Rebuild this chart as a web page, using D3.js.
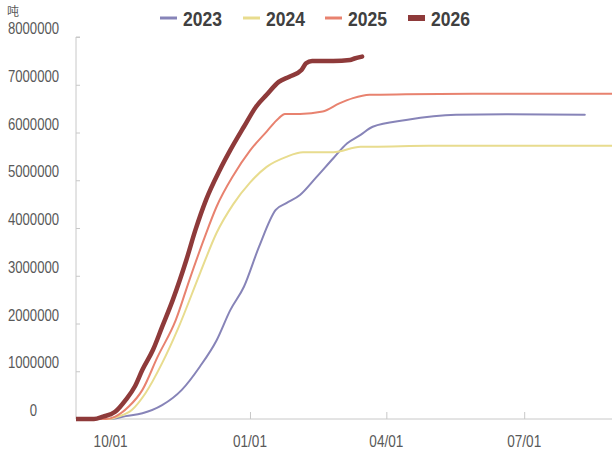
<!DOCTYPE html>
<html><head><meta charset="utf-8">
<script src="https://cdn.jsdelivr.net/npm/d3@7"></script>
<style>
body{margin:0;background:#fff;}
svg{display:block;}
</style></head>
<body>
<svg id="chart" width="612" height="454"></svg>
<script>
// ---- data (season dates mapped onto a generic 2001/2002 season) ----
const seriesNames = ["2023", "2024", "2025", "2026"];
const seriesColors = ["#8784b8", "#e8dc8e", "#e8826f", "#8e3a3a"];
const seriesWidths = [2, 2, 2, 4.5];

const dates2023 = ["2001-09-08","2001-10-01","2001-10-11","2001-10-22","2001-11-04","2001-11-17","2001-11-29","2001-12-10","2001-12-19","2001-12-28","2002-01-07","2002-01-18","2002-01-25","2002-02-03","2002-02-14","2002-02-25","2002-03-06","2002-03-15","2002-03-23","2002-04-14","2002-05-17","2002-06-19","2002-08-10"];
const values2023 = [0, 0, 60000, 120000, 290000, 610000, 1100000, 1650000, 2280000, 2770000, 3610000, 4380000, 4520000, 4690000, 5070000, 5460000, 5770000, 5950000, 6120000, 6260000, 6370000, 6380000, 6370000];

const dates2024 = ["2001-09-08","2001-09-30","2001-10-06","2001-10-15","2001-10-24","2001-11-04","2001-11-15","2001-11-29","2001-12-10","2001-12-21","2002-01-01","2002-01-12","2002-01-25","2002-02-05","2002-02-25","2002-03-15","2002-03-23","2002-04-29","2002-08-31"];
const values2024 = [0, 0, 50000, 190000, 540000, 1170000, 1930000, 3050000, 3900000, 4500000, 4950000, 5280000, 5490000, 5585000, 5585000, 5700000, 5700000, 5720000, 5720000];

const dates2025 = ["2001-09-08","2001-09-28","2001-10-04","2001-10-13","2001-10-22","2001-11-01","2001-11-13","2001-11-22","2001-12-02","2001-12-10","2001-12-21","2002-01-01","2002-01-12","2002-01-20","2002-01-24","2002-02-03","2002-02-18","2002-03-01","2002-03-10","2002-03-21","2002-04-14","2002-05-28","2002-08-31"];
const values2025 = [0, 0, 50000, 260000, 610000, 1300000, 2070000, 2910000, 3800000, 4450000, 5100000, 5620000, 6020000, 6300000, 6390000, 6390000, 6440000, 6610000, 6720000, 6790000, 6800000, 6810000, 6810000];

const dates2026 = ["2001-09-08","2001-09-20","2001-09-26","2001-10-04","2001-10-11","2001-10-17","2001-10-22","2001-10-29","2001-11-04","2001-11-11","2001-11-20","2001-11-26","2001-12-03","2001-12-12","2001-12-19","2001-12-28","2002-01-05","2002-01-12","2002-01-20","2002-01-27","2002-02-04","2002-02-07","2002-02-11","2002-02-25","2002-03-08","2002-03-11","2002-03-16"];
const values2026 = [0, 0, 50000, 150000, 400000, 680000, 1030000, 1450000, 1930000, 2490000, 3330000, 3960000, 4590000, 5210000, 5630000, 6120000, 6540000, 6790000, 7060000, 7170000, 7310000, 7450000, 7500000, 7500000, 7520000, 7550000, 7590000];

const yTicks = [0, 1000000, 2000000, 3000000, 4000000, 5000000, 6000000, 7000000, 8000000];
const xTickDates = ["2001-10-01", "2002-01-01", "2002-04-01", "2002-07-01"];
const xTickLabels = ["10/01", "01/01", "04/01", "07/01"];
const unitLabel = "吨";

// ---- drawing ----
const parse = d3.timeParse("%Y-%m-%d");
const allDates = [dates2023, dates2024, dates2025, dates2026];
const allValues = [values2023, values2024, values2025, values2026];
const series = seriesNames.map((name, i) => ({
  name, color: seriesColors[i], width: seriesWidths[i],
  points: allDates[i].map((d, j) => ({date: parse(d), value: allValues[i][j]}))
}));

const svg = d3.select("#chart");
const pL = 76, pR = 612, pT = 37, pB = 419;
const x = d3.scaleTime().domain([parse("2001-10-01"), parse("2002-07-01")]).range([110.6, 524.2]);
const y = d3.scaleLinear().domain([0, 8000000]).range([pB, pT]);

const fontMain = "'Liberation Sans',Arial,sans-serif";
const axisColor = "#c8c8c8";
const textColor = "#595959";

// y axis
const yAxis = d3.axisRight(y).tickValues(yTicks).tickSize(4).tickFormat("");
const gy = svg.append("g").attr("transform", `translate(${pL},0)`).call(yAxis);
gy.select(".domain").attr("stroke", axisColor).attr("d", `M4,${pT}H0V${pB}`);
gy.selectAll(".tick line").attr("stroke", axisColor);

svg.append("g").selectAll("text").data(yTicks).join("text")
  .attr("x", 33.5).attr("y", d => y(d) - 3)
  .attr("text-anchor", "middle")
  .attr("font-family", fontMain).attr("font-size", 16).attr("fill", textColor)
  .attr("textLength", d => String(d).length * 7.3).attr("lengthAdjust", "spacingAndGlyphs")
  .text(d => d3.format("d")(d));

// x axis
const xAxis = d3.axisTop(x).tickValues(xTickDates.map(parse)).tickSize(7).tickFormat("");
const gx = svg.append("g").attr("transform", `translate(0,${pB})`).call(xAxis);
gx.select(".domain").attr("stroke", axisColor).attr("d", `M${pL},0H${pR}`);
gx.selectAll(".tick line").attr("stroke", axisColor);

svg.append("g").selectAll("text").data(xTickDates).join("text")
  .attr("x", d => x(parse(d))).attr("y", 447)
  .attr("text-anchor", "middle")
  .attr("font-family", fontMain).attr("font-size", 16).attr("fill", textColor)
  .attr("textLength", 34).attr("lengthAdjust", "spacingAndGlyphs")
  .text((d, i) => xTickLabels[i]);

// unit
svg.append("text").attr("x", 7).attr("y", 16)
  .attr("font-family", "'Noto Sans CJK SC',sans-serif").attr("font-size", 12).attr("fill", textColor)
  .text(unitLabel);

// lines
svg.append("clipPath").attr("id", "clip").append("rect")
  .attr("x", pL).attr("y", 0).attr("width", pR - pL).attr("height", pB + 3);
const line = d3.line().x(d => x(d.date)).y(d => y(d.value)).curve(d3.curveMonotoneX);
svg.append("g").attr("clip-path", "url(#clip)").selectAll("path").data(series).join("path")
  .attr("fill", "none").attr("stroke", d => d.color).attr("stroke-width", d => d.width)
  .attr("stroke-linejoin", "round").attr("stroke-linecap", "round")
  .attr("d", d => line(d.points));

// legend
const legendX = [160, 243, 325, 408];
const lg = svg.append("g").selectAll("g").data(series).join("g")
  .attr("transform", (d, i) => `translate(${legendX[i]},18)`);
lg.append("line").attr("x1", 0).attr("x2", 17).attr("y1", 0).attr("y2", 0)
  .attr("stroke", d => d.color).attr("stroke-width", (d, i) => i === 3 ? 6 : 3);
lg.append("text").attr("x", 23).attr("y", 7.5)
  .attr("font-family", fontMain).attr("font-weight", "bold").attr("font-size", 21).attr("fill", "#404040")
  .attr("textLength", 39).attr("lengthAdjust", "spacingAndGlyphs")
  .text(d => d.name);
</script>
</body></html>
